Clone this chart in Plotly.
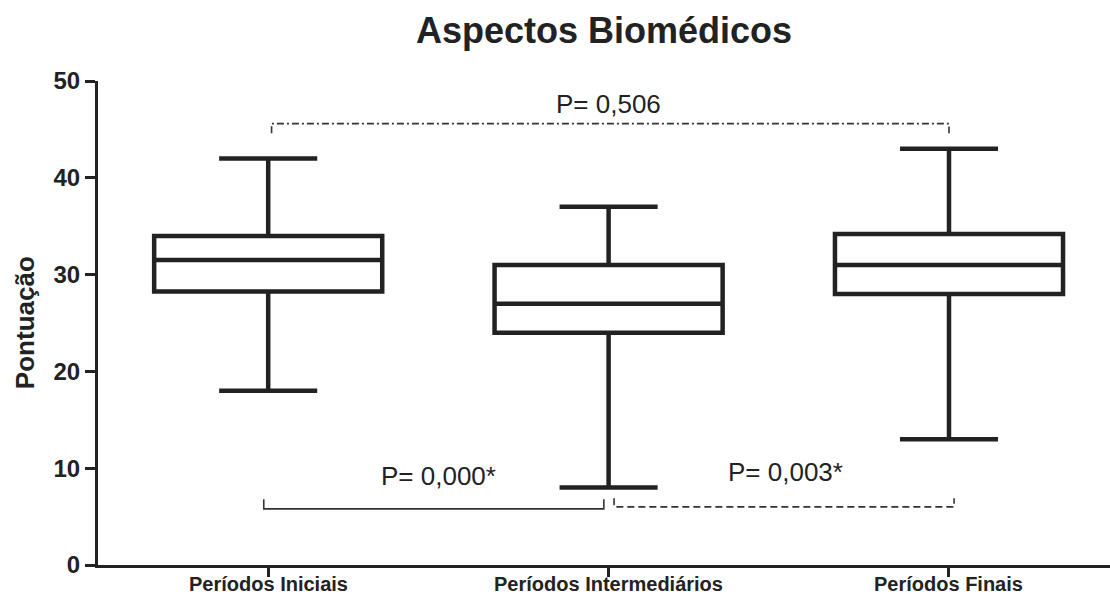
import plotly.graph_objects as go

# ---- data ----
categories = ["Períodos Iniciais", "Períodos Intermediários", "Períodos Finais"]
positions = [0, 1, 2]
q1_vals = [28.25, 24.0, 28.0]
median_vals = [31.5, 27.0, 31.0]
q3_vals = [34.0, 31.0, 34.2]
min_vals = [18.0, 8.0, 13.0]
max_vals = [42.0, 37.0, 43.0]

y_ticks = [0, 10, 20, 30, 40, 50]

# comparison brackets
bracket_x0 = [0.01, -0.013, 1.016]
bracket_x1 = [2.0, 0.986, 2.015]
bracket_y = [45.6, 5.8, 6.0]
bracket_tick = [-1.0, 1.0, 0.9]
bracket_dash = ["7px,3px,2px,3px", "solid", "7px,4px"]
p_texts = ["P= 0,506", "P= 0,000*", "P= 0,003*"]
p_text_x = [1.0, 0.5, 1.52]
p_text_y = [47.6, 9.2, 9.6]

INK = "#222222"
FONT = "Liberation Sans, Arial, sans-serif"

fig = go.Figure()
fig.add_trace(go.Box(
    x=positions,
    q1=q1_vals,
    median=median_vals,
    q3=q3_vals,
    lowerfence=min_vals,
    upperfence=max_vals,
    width=0.67,
    whiskerwidth=0.43,
    fillcolor="white",
    line=dict(color=INK, width=4.5),
    boxpoints=False,
    hoverinfo="skip",
    showlegend=False,
))

shapes = []
for x0, x1, y, t, d in zip(bracket_x0, bracket_x1, bracket_y, bracket_tick, bracket_dash):
    shapes.append(dict(
        type="path", xref="x", yref="y",
        path=f"M {x0},{y + t} L {x0},{y} L {x1},{y} L {x1},{y + t}",
        line=dict(color="#333333", width=1.6, dash=d),
    ))

annotations = []
for txt, tx, ty in zip(p_texts, p_text_x, p_text_y):
    annotations.append(dict(
        x=tx, y=ty, xref="x", yref="y", text=txt, showarrow=False,
        font=dict(family=FONT, size=26, color=INK),
        xanchor="center", yanchor="middle",
    ))
# category labels under the x axis ticks
for cat, pos in zip(categories, positions):
    annotations.append(dict(
        x=pos, y=0, xref="x", yref="paper", text=f"<b>{cat}</b>", showarrow=False,
        font=dict(family=FONT, size=20, color=INK),
        xanchor="center", yanchor="middle", yshift=-19,
    ))
annotations.append(dict(
    x=-0.072, y=0.5, xref="paper", yref="paper", text="<b>Pontuação</b>",
    showarrow=False, textangle=-90,
    font=dict(family=FONT, size=26, color=INK),
    xanchor="center", yanchor="middle",
))

fig.update_layout(
    width=1110, height=594,
    margin=dict(l=98, r=0, t=81, b=29, autoexpand=False),
    paper_bgcolor="white", plot_bgcolor="white",
    title=dict(text="<b>Aspectos Biomédicos</b>", x=0.5, xref="paper",
               y=1 - 30 / 594, yref="container", xanchor="center", yanchor="middle",
               automargin=False,
               font=dict(family=FONT, size=36, color=INK)),
    shapes=shapes,
    annotations=annotations,
    showlegend=False,
)

fig.update_xaxes(
    range=[-0.5, 2.473], automargin=False,
    tickmode="array", tickvals=positions, showticklabels=False,
    ticks="outside", ticklen=9, tickwidth=3, tickcolor=INK,
    showline=True, linewidth=3, linecolor=INK,
    showgrid=False, zeroline=False,
)
fig.update_yaxes(
    range=[0, 50], automargin=False,
    tickmode="array", tickvals=y_ticks,
    ticktext=[f"<b>{v}</b>" for v in y_ticks],
    ticks="outside", ticklen=10, tickwidth=3, tickcolor=INK,
    showline=True, linewidth=3, linecolor=INK,
    showgrid=False, zeroline=False,
    tickfont=dict(family=FONT, size=24, color=INK),
)

fig.write_html(
    "out.html",
    config={"displayModeBar": False},
    post_script="document.body.style.margin='0';document.body.style.overflow='hidden';",
)
